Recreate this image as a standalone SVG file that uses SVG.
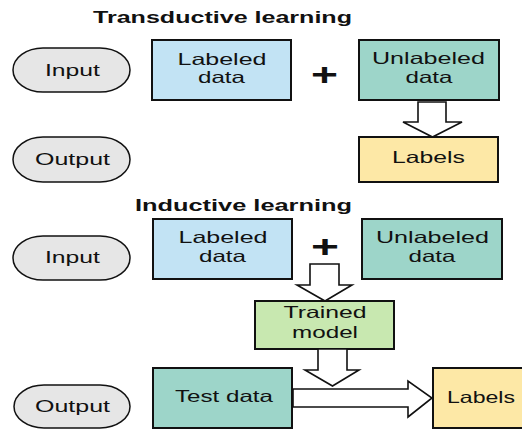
<svg xmlns="http://www.w3.org/2000/svg" width="522" height="431" viewBox="0 0 522 431">
  <style>
    .title { font-family: "Liberation Sans", Arial, sans-serif; font-weight: bold; font-size: 16.5px; fill: #111; text-anchor: middle; }
    .lbl { font-family: "Liberation Sans", Arial, sans-serif; font-size: 16.5px; fill: #111; text-anchor: middle; }
    .plus { font-family: "Liberation Sans", Arial, sans-serif; font-weight: bold; font-size: 32px; fill: #111; text-anchor: middle; }
    .pill { fill: #e6e6e6; stroke: #111; stroke-width: 1.5; }
    .box { stroke: #111; stroke-width: 2; }
    .blue { fill: #c2e3f4; }
    .teal { fill: #9dd5c9; }
    .yellow { fill: #fde8a6; }
    .green { fill: #c8e8b0; }
    .arrow { fill: #fff; stroke: #111; stroke-width: 1.6; stroke-linejoin: miter; }
  </style>

  <!-- section headings -->
  <text class="title" x="222.5" y="23" textLength="259" lengthAdjust="spacingAndGlyphs">Transductive learning</text>
  <text class="title" x="243.5" y="211" textLength="217" lengthAdjust="spacingAndGlyphs">Inductive learning</text>

  <!-- transductive row -->
  <g id="t-input">
    <rect class="pill" x="13" y="48" width="117" height="44" rx="30" ry="22"/>
    <text class="lbl" x="72.5" y="76" textLength="55" lengthAdjust="spacingAndGlyphs">Input</text>
  </g>
  <g id="t-output">
    <rect class="pill" x="13" y="137" width="117" height="45" rx="30" ry="22.5"/>
    <text class="lbl" x="72.5" y="165" textLength="75" lengthAdjust="spacingAndGlyphs">Output</text>
  </g>
  <g id="t-labeled">
    <rect class="box blue" x="152" y="40" width="139" height="60"/>
    <text class="lbl" x="222" y="65" textLength="89" lengthAdjust="spacingAndGlyphs">Labeled</text>
    <text class="lbl" x="221.5" y="83" textLength="47" lengthAdjust="spacingAndGlyphs">data</text>
  </g>
  <text class="plus" x="324.5" y="84.5" textLength="27" lengthAdjust="spacingAndGlyphs">+</text>
  <g id="t-unlabeled">
    <rect class="box teal" x="359" y="40" width="140" height="60"/>
    <text class="lbl" x="428.5" y="64" textLength="113" lengthAdjust="spacingAndGlyphs">Unlabeled</text>
    <text class="lbl" x="429" y="83" textLength="47" lengthAdjust="spacingAndGlyphs">data</text>
  </g>
  <g id="t-labels">
    <rect class="box yellow" x="359" y="137" width="139" height="45"/>
    <text class="lbl" x="428.5" y="163" textLength="73" lengthAdjust="spacingAndGlyphs">Labels</text>
  </g>

  <!-- inductive rows -->
  <g id="i-input">
    <rect class="pill" x="13" y="236" width="117" height="44" rx="30" ry="22"/>
    <text class="lbl" x="72.5" y="263" textLength="55" lengthAdjust="spacingAndGlyphs">Input</text>
  </g>
  <g id="i-labeled">
    <rect class="box blue" x="153" y="219" width="139" height="60"/>
    <text class="lbl" x="223" y="243" textLength="89" lengthAdjust="spacingAndGlyphs">Labeled</text>
    <text class="lbl" x="222.5" y="262" textLength="47" lengthAdjust="spacingAndGlyphs">data</text>
  </g>
  <text class="plus" x="325" y="256.5" textLength="28" lengthAdjust="spacingAndGlyphs">+</text>
  <g id="i-unlabeled">
    <rect class="box teal" x="362" y="219" width="140" height="60"/>
    <text class="lbl" x="432.5" y="243" textLength="113" lengthAdjust="spacingAndGlyphs">Unlabeled</text>
    <text class="lbl" x="432" y="262" textLength="47" lengthAdjust="spacingAndGlyphs">data</text>
  </g>
  <g id="i-model">
    <rect class="box green" x="255" y="301" width="139" height="48"/>
    <text class="lbl" x="325" y="318" textLength="83" lengthAdjust="spacingAndGlyphs">Trained</text>
    <text class="lbl" x="325" y="338" textLength="66" lengthAdjust="spacingAndGlyphs">model</text>
  </g>
  <g id="i-output">
    <rect class="pill" x="14" y="385" width="116" height="43" rx="30" ry="21.5"/>
    <text class="lbl" x="72.5" y="412" textLength="75" lengthAdjust="spacingAndGlyphs">Output</text>
  </g>
  <g id="i-test">
    <rect class="box teal" x="153" y="368" width="139" height="60"/>
    <text class="lbl" x="224" y="402" textLength="98" lengthAdjust="spacingAndGlyphs">Test data</text>
  </g>
  <g id="i-labels">
    <rect class="box yellow" x="433" y="368" width="92" height="60"/>
    <text class="lbl" x="481" y="403" textLength="68" lengthAdjust="spacingAndGlyphs">Labels</text>
  </g>

  <!-- block arrows -->
  <g id="connectors">
    <polygon class="arrow" points="418,102 446,102 446,122 462,122 432.5,137 403,122 418,122"/>
    <polygon class="arrow" points="310,264 339,264 339,285 352,285 325,301 297,285 310,285"/>
    <polygon class="arrow" points="318,349 347,349 347,370 359,370 332.5,386 305,370 318,370"/>
    <polygon class="arrow" points="293,389 408,389 408,381 432,398 408,417 408,407 293,407"/>
  </g>
</svg>
